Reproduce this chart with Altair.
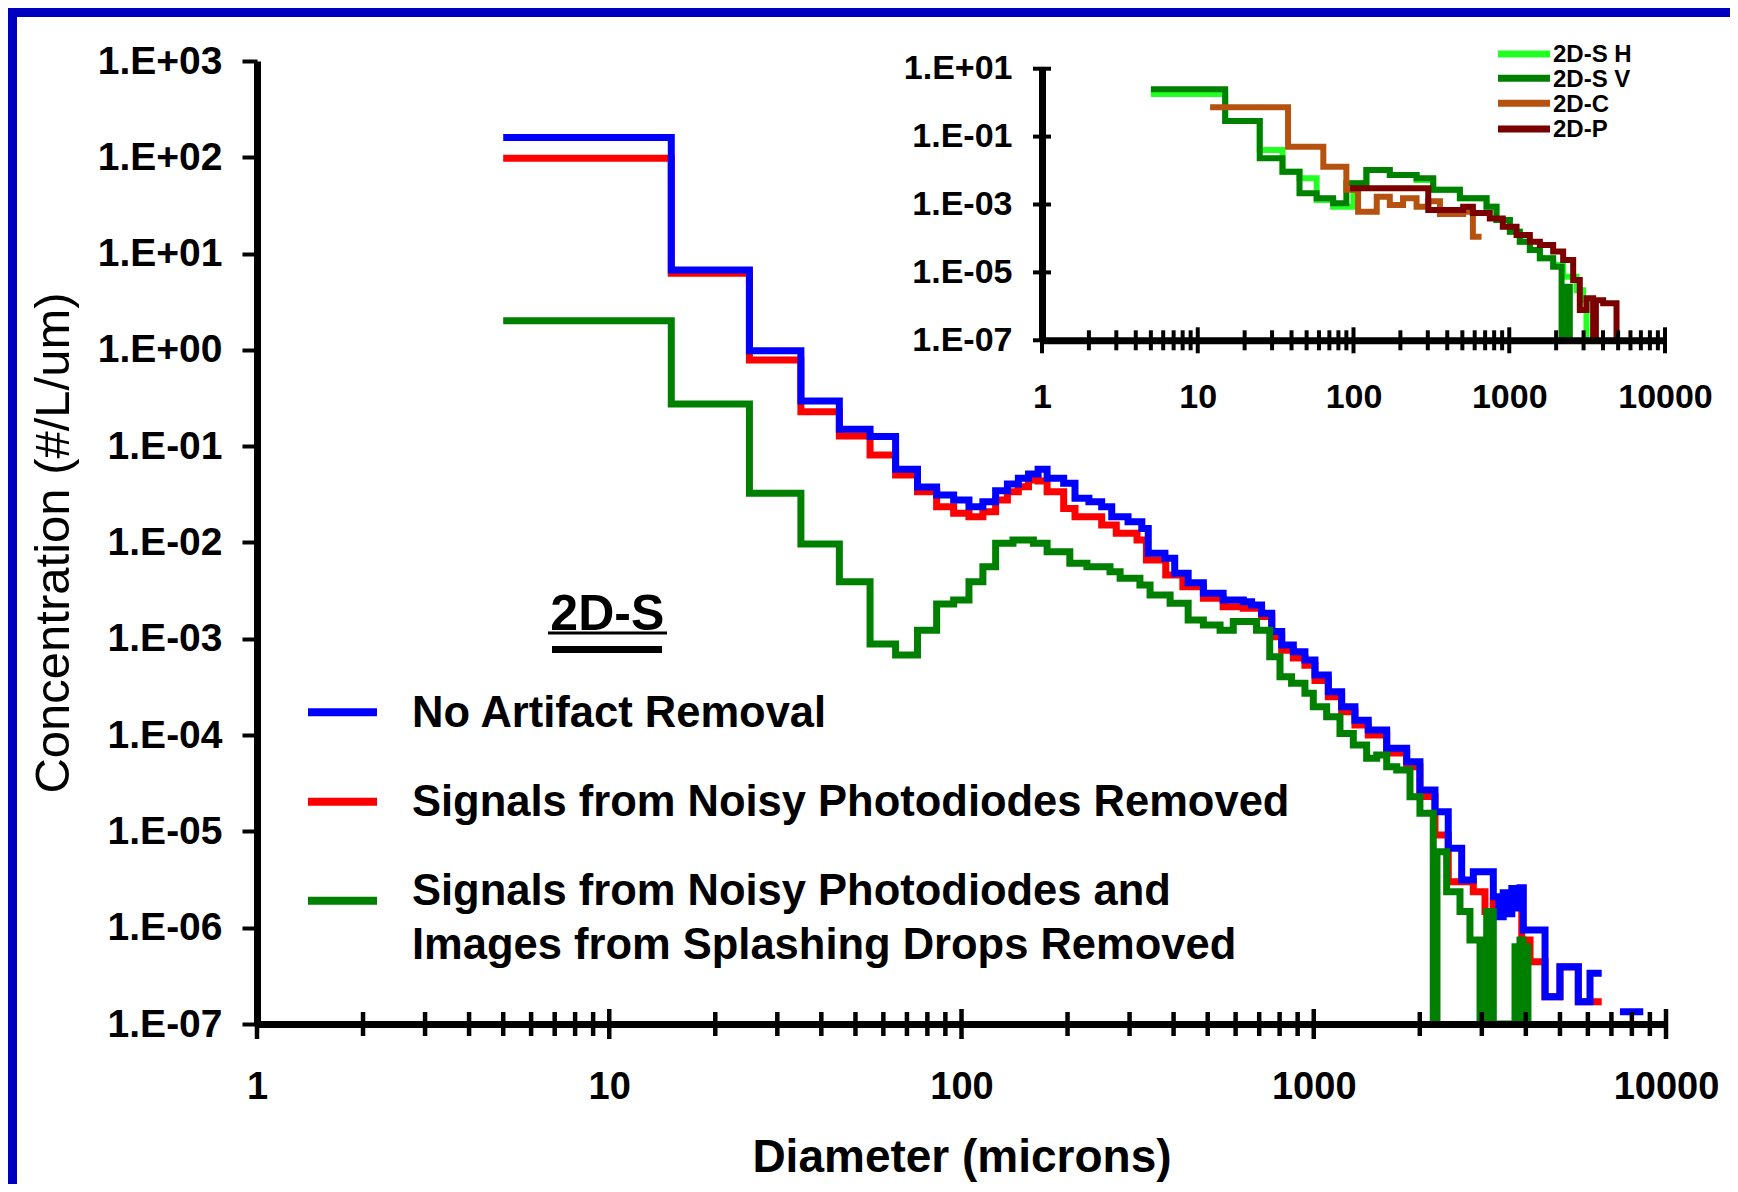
import altair as alt
import pandas as pd

FONT = "Liberation Sans"
Z = 1e-9  # empty bins (below the axis floor, drawn on the axis)

# ---------------- main panel: 2D-S (bin lower edge in microns, #/L/um) ----------------
blue_D = [5, 15, 25, 35, 45, 55, 65, 75, 85, 95, 105, 115, 125, 135, 145, 155, 165, 175, 195, 210,
          230, 250, 267, 297, 325, 339, 378, 403, 440, 486, 553, 631, 666, 711, 760, 811, 875, 944,
          1008, 1100, 1200, 1309, 1428, 1611, 1836, 2002, 2209, 2409, 2630, 2838, 3234, 3350, 3450,
          3550, 3650, 3780, 3850, 3935, 4535, 5000, 5637, 6085, 6569, 7400, 8620]
blue_C = [161, 6.75, 0.981, 0.295, 0.150, 0.126, 0.0576, 0.0377, 0.0311, 0.0276, 0.0235, 0.0265,
          0.0345, 0.0405, 0.0464, 0.0514, 0.0576, 0.0464, 0.0412, 0.0288, 0.0265, 0.0235, 0.0185,
          0.0164, 0.0140, 0.00772, 0.00685, 0.00479, 0.00382, 0.00297, 0.00253, 0.00243, 0.00224,
          0.00184, 0.00119, 8.62e-4, 7.35e-4, 6.02e-4, 4.21e-4, 2.82e-4, 1.97e-4, 1.43e-4, 1.13e-4,
          7.29e-5, 5.29e-5, 2.69e-5, 1.60e-5, 6.68e-6, 3.13e-6, 3.82e-6, 2.1e-6, 1.3e-6, 2.3e-6,
          1.4e-6, 2.56e-6, 1.6e-6, 2.6e-6, 9.46e-7, 1.92e-7, 3.94e-7, 1.70e-7, 3.36e-7, 3.36e-7,
          1.34e-7, 1.34e-7]
blue_seg = [0] * 63 + [1, 1]

red_D = [5, 15, 25, 35, 45, 55, 65, 75, 85, 95, 105, 115, 125, 135, 145, 155, 165, 175, 195, 210,
         250, 275, 315, 335, 380, 425, 486, 553, 631, 711, 760, 811, 875, 944, 1008, 1100, 1200,
         1309, 1428, 1611, 1836, 2002, 2209, 2409, 2630, 2838, 3063, 3234, 3895, 4112, 4535, 5000,
         5637, 6085, 6569]
red_C = [97.7, 6.24, 0.785, 0.228, 0.128, 0.081, 0.0502, 0.0337, 0.0235, 0.0201, 0.0185, 0.0209,
         0.0276, 0.0337, 0.0380, 0.0446, 0.0436, 0.0337, 0.0226, 0.0185, 0.0152, 0.0125, 0.0106,
         0.00658, 0.00460, 0.00348, 0.00263, 0.00215, 0.00207, 0.0017, 0.00105, 7.6e-4, 6.3e-4,
         5.3e-4, 3.7e-4, 2.5e-4, 1.75e-4, 1.27e-4, 1.0e-4, 6.5e-5, 4.7e-5, 2.3e-5, 9.2e-6, 3.0e-6,
         3.0e-6, 2.36e-6, 1.47e-6, 1.9e-6, 7.45e-7, 4.43e-7, 1.92e-7, 3.9e-7, 1.7e-7, 1.7e-7, 1.7e-7]

green_D = [5, 15, 25, 35, 45, 55, 65, 75, 85, 95, 105, 115, 125, 140, 160, 175, 203, 227, 264, 282,
           321, 343, 391, 440, 486, 542, 591, 688, 750, 802, 865, 944, 997, 1088, 1187, 1295, 1413,
           1509, 1611, 1720, 1876, 2002, 2184, 2238, 2384, 2601, 2776, 2965, 3097, 3234, 3727, 3800,
           3850, 3927, 3978, 4056, 4100]
green_C = [2.01, 0.274, 0.0324, 0.00965, 0.00392, 8.83e-4, 6.79e-4, 0.00123, 0.00230, 0.00253,
           0.00392, 0.00561, 0.00981, 0.01062, 0.00981, 0.00803, 0.00608, 0.00561, 0.00497, 0.00425,
           0.00362, 0.00285, 0.00234, 0.00157, 0.00139, 0.00123, 0.00151, 0.00123, 6.52e-4, 4.04e-4,
           3.45e-4, 2.72e-4, 1.97e-4, 1.55e-4, 1.04e-4, 7.89e-5, 5.74e-5, 6.21e-5, 4.70e-5, 4.34e-5,
           2.29e-5, 1.54e-5, Z, 6.15e-6, 2.36e-6, 1.47e-6, 7.45e-7, Z, 1.47e-6, Z,
           6.35e-7, Z, 7.45e-7, Z, 6.35e-7, Z, Z]

legend_labels = ["No Artifact Removal",
                 "Signals from Noisy Photodiodes Removed",
                 ["Signals from Noisy Photodiodes  and", "Images from Splashing Drops Removed"]]

# ---------------- inset: probe comparison ----------------
sH_D = [5, 15, 25, 35, 45, 58, 74, 100, 121, 171, 254, 325, 482, 715, 828, 1009, 1169, 1356, 1572,
        1914, 2219, 2704, 2980, 3133]
sH_C = [1.8, 0.288, 0.040, 0.0092, 0.0059, 0.00136, 8.6e-4, 0.0042, 0.0104, 0.0074, 0.0053, 0.0027,
        0.00152, 8.6e-4, 3.5e-4, 1.58e-4, 8.0e-5, 4.6e-5, 2.6e-5, 1.65e-5, 7.5e-6, 3.0e-6, 1.5e-6, Z]
sV_D = [5, 15, 25, 35, 45, 58, 74, 90, 121, 171, 254, 325, 482, 715, 828, 1009, 1169, 1356, 1572,
        1914, 2168, 2275, 2449]
sV_C = [2.47, 0.288, 0.023, 0.0092, 0.00214, 0.00152, 0.00108, 0.0042, 0.0104, 0.0074, 0.0059,
        0.0027, 0.00152, 8.6e-4, 3.5e-4, 1.58e-4, 8.0e-5, 4.6e-5, 2.6e-5, 1.47e-5, Z, 3.8e-6, Z]
c_D = [12, 38, 64, 90, 107, 141, 171, 208, 254, 302, 359, 506, 584, 664]
c_C = [0.73, 0.050, 0.013, 0.0027, 6.1e-4, 0.0017, 9.7e-4, 0.00152, 8.6e-4, 0.00125, 5.25e-4,
       6.1e-4, 1.13e-4, 1.13e-4]
p_D = [95, 302, 506, 584, 750, 909, 1114, 1356, 1572, 1914, 2219, 2573, 2838, 3133, 3456, 3600,
       4010, 4884]
p_C = [0.0030, 6.9e-4, 8.6e-4, 5.6e-4, 3.9e-4, 2.2e-4, 1.26e-4, 8.0e-5, 6.4e-5, 4.1e-5, 2.3e-5,
       6.0e-6, 7.8e-7, 1.73e-6, Z, 1.5e-6, 1.23e-6, Z]
inset_labels = ["2D-S H", "2D-S V", "2D-C", "2D-P"]

# ticks
major_ticks = [1, 10, 100, 1000, 10000]
minor_ticks = [2, 3, 4, 5, 6, 7, 8, 9, 20, 30, 40, 50, 60, 70, 80, 90,
               200, 300, 400, 500, 600, 700, 800, 900, 2000, 3000, 4000, 5000, 6000, 7000, 8000, 9000]
main_y_ticks = [1e-7, 1e-6, 1e-5, 1e-4, 1e-3, 1e-2, 1e-1, 1, 10, 100, 1000]
inset_y_ticks = [1e-7, 1e-5, 1e-3, 1e-1, 10]

# ---------------- styling / geometry ----------------
W, H = 1409, 963
PADL, PADT, PADR, PADB = 249, 53, 64, 160
BORDER = "#0000C0"
BLUE, RED, GREEN = "#0000FF", "#FF0000", "#008000"
LGREEN, DGREEN, BROWN, DRED = "#22FF22", "#008000", "#B5520F", "#7A0000"

IN_X0, IN_X1 = 785, 1408
IN_Y0, IN_Y1 = 279.3, 7.7

one = pd.DataFrame({"k": [0]})

E_LABEL = "'1.E' + (datum.value >= 1 ? '+' : '-') + '0' + abs(round(log(datum.value) / LN10))"


def xs_main():
    return alt.Scale(type="log", domain=[1, 10000], nice=False, range=[0, W])


def ys_main():
    return alt.Scale(type="log", domain=[1e-7, 1000], nice=False, clamp=True, range=[H, 0])


def xs_in():
    return alt.Scale(type="log", domain=[1, 10000], nice=False, range=[IN_X0, IN_X1])


def ys_in():
    return alt.Scale(type="log", domain=[1e-7, 10], nice=False, clamp=True, range=[IN_Y0, IN_Y1])


common_axis = dict(grid=False, domainColor="black", domainWidth=7, zindex=1,
                   labelFont=FONT, labelFontWeight="bold", labelColor="black", labelOverlap=False)

x_axis_main = alt.Axis(orient="bottom", values=major_ticks, format="d", ticks=False, tickSize=0,
                       labelFontSize=38, labelPadding=44, labelFlush=False,
                       title="Diameter (microns)", titleFont=FONT, titleFontSize=46,
                       titleFontWeight="bold", titleColor="black", titleX=W / 2, titleY=133,
                       titleAlign="center", titleBaseline="middle", **common_axis)
y_axis_main = alt.Axis(orient="left", values=main_y_ticks, labelExpr=E_LABEL, ticks=True,
                       tickSize=15, tickWidth=4, tickColor="black", labelFontSize=39,
                       labelPadding=20, title="Concentration (#/L/um)", titleFont=FONT,
                       titleFontSize=49, titleFontWeight="normal", titleColor="black",
                       titleAngle=270, titleX=-204, titleY=H / 2, titleAlign="center",
                       titleBaseline="middle", **common_axis)
x_axis_in = alt.Axis(orient="bottom", offset=-(H - IN_Y0), values=major_ticks, format="d",
                     ticks=False, tickSize=0, labelFontSize=34, labelPadding=40, labelFlush=False,
                     title="", **common_axis)
y_axis_in = alt.Axis(orient="left", offset=-IN_X0, values=inset_y_ticks, labelExpr=E_LABEL,
                     ticks=False, tickSize=0, labelFontSize=34, labelPadding=30, title="",
                     **common_axis)


def step_line(D, C, color, xs, ys, width, xaxis=None, yaxis=None, seg=None):
    df = pd.DataFrame({"D": D, "C": C, "seg": seg if seg is not None else [0] * len(D)})
    return alt.Chart(df).mark_line(
        interpolate="step-after", color=color, strokeWidth=width, strokeJoin="miter"
    ).encode(
        x=alt.X("D:Q", scale=xs, axis=xaxis),
        y=alt.Y("C:Q", scale=ys, axis=yaxis),
        detail="seg:N",
    )


def xticks(vals, xs, yc, half, width):
    return alt.Chart(pd.DataFrame({"t": vals})).mark_rule(color="black", strokeWidth=width).encode(
        x=alt.X("t:Q", scale=xs, axis=None), y=alt.value(yc - half), y2=alt.value(yc + half))


def yticks(vals, ys, xc, half, width):
    return alt.Chart(pd.DataFrame({"t": vals})).mark_rule(color="black", strokeWidth=width).encode(
        y=alt.Y("t:Q", scale=ys, axis=None), x=alt.value(xc - half), x2=alt.value(xc + half))


def hrule(x1, x2, y, color, width):
    return alt.Chart(one).mark_rule(color=color, strokeWidth=width).encode(
        x=alt.value(x1), x2=alt.value(x2), y=alt.value(y))


def label(txt, x, y, size, baseline="alphabetic", align="left", weight="bold", lh=None):
    kw = dict(text=txt, font=FONT, fontSize=size, fontWeight=weight, color="black",
              align=align, baseline=baseline)
    if lh is not None:
        kw["lineHeight"] = lh
    return alt.Chart(one).mark_text(**kw).encode(x=alt.value(x), y=alt.value(y))


def rect(x1, x2, y1, y2, color):
    return alt.Chart(one).mark_rect(color=color).encode(
        x=alt.value(x1), x2=alt.value(x2), y=alt.value(y1), y2=alt.value(y2))


layers = [
    # slide frame
    rect(-PADL, -PADL + 9, -PADT, H + PADB, BORDER),
    rect(-PADL, W + PADR, -PADT, -PADT + 9, BORDER),
    # main panel
    step_line(red_D, red_C, RED, xs_main(), ys_main(), 7, x_axis_main, y_axis_main),
    step_line(blue_D, blue_C, BLUE, xs_main(), ys_main(), 7, seg=blue_seg),
    step_line(green_D, green_C, GREEN, xs_main(), ys_main(), 7),
    xticks(minor_ticks, xs_main(), H, 12, 4.5),
    xticks(major_ticks, xs_main(), H, 15, 4.5),
    # "2D-S" heading with underline bar
    label("2D-S", 350.3, 569, 50, align="center"),
    hrule(291, 410, 572, "black", 3),
    hrule(295, 405, 588.5, "black", 7),
    # legend
    hrule(51, 120, 651.3, BLUE, 8),
    hrule(51, 120, 740.7, RED, 8),
    hrule(51, 120, 839.7, GREEN, 8),
    label(legend_labels[0], 155, 665.7, 43.5),
    label(legend_labels[1], 155, 754.5, 43.5),
    label(legend_labels[2], 155, 844, 43.5, lh=54),
    # inset
    step_line(sH_D, sH_C, LGREEN, xs_in(), ys_in(), 6, x_axis_in, y_axis_in),
    step_line(sV_D, sV_C, DGREEN, xs_in(), ys_in(), 6),
    step_line(c_D, c_C, BROWN, xs_in(), ys_in(), 6),
    step_line(p_D, p_C, DRED, xs_in(), ys_in(), 6),
    xticks(minor_ticks, xs_in(), IN_Y0, 10, 4),
    xticks(major_ticks, xs_in(), IN_Y0, 13, 4),
    yticks(inset_y_ticks, ys_in(), IN_X0, 9, 4),
    # inset legend
    hrule(1241, 1293, -7, LGREEN, 7),
    hrule(1241, 1293, 17.3, DGREEN, 7),
    hrule(1241, 1293, 42.3, BROWN, 7),
    hrule(1241, 1293, 68, DRED, 7),
    label(inset_labels[0], 1296, -6, 24, baseline="middle"),
    label(inset_labels[1], 1296, 18.5, 24, baseline="middle"),
    label(inset_labels[2], 1296, 43.5, 24, baseline="middle"),
    label(inset_labels[3], 1296, 69, 24, baseline="middle"),
]

chart = alt.layer(*layers).resolve_scale(
    x="independent", y="independent"
).properties(
    width=W, height=H,
    padding={"left": PADL, "top": PADT, "right": PADR, "bottom": PADB},
    autosize=alt.AutoSizeParams(type="none"),
    background="white",
).configure_view(strokeWidth=0)

chart.save("out.html", embed_options={"renderer": "svg", "actions": False})
